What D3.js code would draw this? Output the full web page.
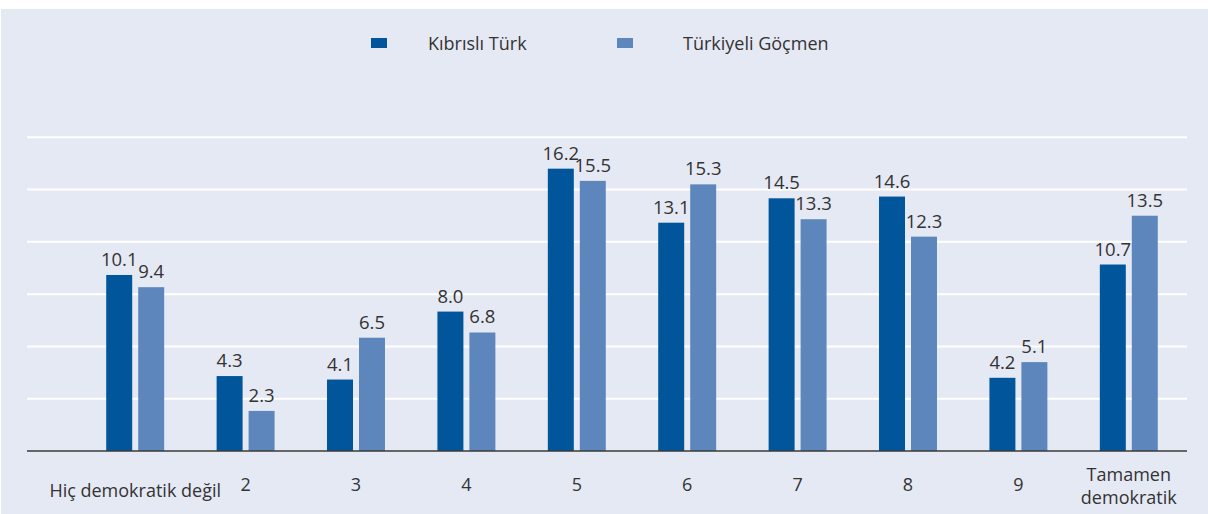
<!DOCTYPE html>
<html lang="tr">
<head>
<meta charset="utf-8">
<title>Demokrasi algısı</title>
<script src="https://d3js.org/d3.v7.min.js"></script>
<style>
  body { margin: 0; background: #fff; }
  svg text { font-family: 'Open Sans', sans-serif; fill: #333; }
</style>
</head>
<body>
<div id="chart"></div>
<script>
/* global d3 */

var categories = ["Hiç demokratik değil", "2", "3", "4", "5", "6", "7", "8", "9", "Tamamen demokratik"];
var seriesNames = ["Kıbrıslı Türk", "Türkiyeli Göçmen"];
var kibrisliTurk = [10.1, 4.3, 4.1, 8.0, 16.2, 13.1, 14.5, 14.6, 4.2, 10.7];
var turkiyeliGocmen = [9.4, 2.3, 6.5, 6.8, 15.5, 15.3, 13.3, 12.3, 5.1, 13.5];
var gridTicks = [3, 6, 9, 12, 15, 18];

var colors = ["#00559b", "#5d87bc"];

var width = 1208,
    height = 514;

var svg = d3.select("#chart")
    .append("svg")
    .attr("width", width)
    .attr("height", height);

// panel background
svg.append("rect")
    .attr("x", 1)
    .attr("y", 9)
    .attr("width", width - 1)
    .attr("height", height - 9)
    .attr("fill", "#e5e9f4");

var x0 = d3.scaleBand()
    .domain(categories)
    .range([80, 1184])
    .paddingInner(0.475)
    .paddingOuter(0.2375);

var x1 = d3.scaleBand()
    .domain(seriesNames)
    .range([0, x0.bandwidth()])
    .paddingInner(0.1875);

var y = d3.scaleLinear()
    .domain([0, 18])
    .range([451, 137.3]);

// gridlines
svg.append("g")
    .selectAll("line")
    .data(gridTicks)
    .join("line")
    .attr("x1", 27)
    .attr("x2", 1187)
    .attr("y1", function(d) { return y(d); })
    .attr("y2", function(d) { return y(d); })
    .attr("stroke", "#fff")
    .attr("stroke-width", 2);

var rows = categories.map(function(c, i) {
    return { cat: c, values: [kibrisliTurk[i], turkiyeliGocmen[i]] };
});

var groups = svg.append("g")
    .selectAll("g")
    .data(rows)
    .join("g")
    .attr("transform", function(d) { return "translate(" + x0(d.cat) + ",0)"; });

var bars = groups.selectAll("g")
    .data(function(d) {
        return d.values.map(function(v, j) { return { name: seriesNames[j], value: v, idx: j }; });
    })
    .join("g");

bars.append("rect")
    .attr("x", function(d) { return x1(d.name); })
    .attr("width", x1.bandwidth())
    .attr("y", function(d) { return y(d.value); })
    .attr("height", function(d) { return y(0) - y(d.value); })
    .attr("fill", function(d) { return colors[d.idx]; });

bars.append("text")
    .attr("x", function(d) { return x1(d.name) + x1.bandwidth() / 2; })
    .attr("y", function(d) { return y(d.value) - 9; })
    .attr("text-anchor", "middle")
    .style("font-size", "18.5px")
    .text(function(d) { return d.value.toFixed(1); });

// baseline
svg.append("line")
    .attr("x1", 27)
    .attr("x2", 1187)
    .attr("y1", y(0))
    .attr("y2", y(0))
    .attr("stroke", "#3a3a3a")
    .attr("stroke-width", 1.5);

// category labels
var labels = svg.append("g")
    .selectAll("text")
    .data(categories)
    .join("text")
    .attr("x", function(d) { return x0(d) + x0.bandwidth() / 2; })
    .attr("y", function(d, i) { return i === 0 ? 497 : 491; })
    .attr("text-anchor", "middle")
    .style("font-size", "18px");

labels.each(function(d) {
    var t = d3.select(this);
    if (d === "Tamamen demokratik") {
        t.append("tspan").attr("x", t.attr("x")).attr("y", 481).text("Tamamen");
        t.append("tspan").attr("x", t.attr("x")).attr("y", 504).text("demokratik");
    } else {
        t.text(d);
    }
});

// legend
var legendX = [371, 617];
var legend = svg.append("g")
    .selectAll("g")
    .data(seriesNames)
    .join("g")
    .attr("transform", function(d, i) { return "translate(" + legendX[i] + ",38)"; });

legend.append("rect")
    .attr("width", 16)
    .attr("height", 10)
    .attr("fill", function(d, i) { return colors[i]; });

legend.append("text")
    .attr("x", function(d, i) { return i === 0 ? 57 : 66; })
    .attr("y", 12)
    .style("font-size", "18px")
    .text(function(d) { return d; });
</script>
</body>
</html>
